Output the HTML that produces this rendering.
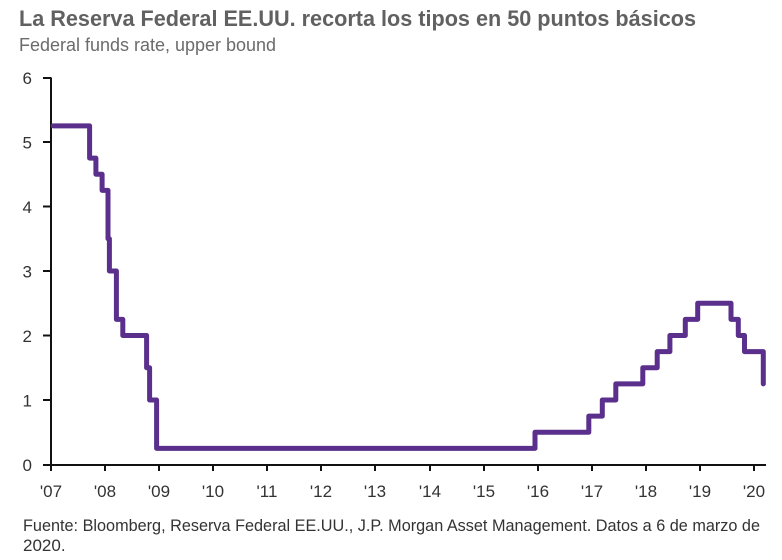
<!DOCTYPE html>
<html>
<head>
<meta charset="utf-8">
<style>
  html,body{margin:0;padding:0;background:#fff;}
  svg{display:block;}
  text{font-family:"Liberation Sans", sans-serif;}
</style>
</head>
<body>
<svg width="782" height="560" viewBox="0 0 782 560" xmlns="http://www.w3.org/2000/svg">
  <rect width="782" height="560" fill="#fff"/>
  <!-- Title -->
  <text x="19" y="26" font-size="22" font-weight="bold" fill="#616161" textLength="677" lengthAdjust="spacingAndGlyphs">La Reserva Federal EE.UU. recorta los tipos en 50 puntos básicos</text>
  <text x="19" y="51" font-size="18.5" fill="#6b6b6b" textLength="257" lengthAdjust="spacingAndGlyphs">Federal funds rate, upper bound</text>

  <!-- Axes -->
  <g stroke="#111" stroke-width="2" fill="none">
    <line x1="51" y1="77.5" x2="51" y2="465"/>
    <line x1="43" y1="465" x2="766" y2="465"/>
    <!-- y ticks -->
    <line x1="43" y1="78" x2="51" y2="78"/>
    <line x1="43" y1="142" x2="51" y2="142"/>
    <line x1="43" y1="206.5" x2="51" y2="206.5"/>
    <line x1="43" y1="271" x2="51" y2="271"/>
    <line x1="43" y1="335.5" x2="51" y2="335.5"/>
    <line x1="43" y1="400" x2="51" y2="400"/>
    <!-- x ticks -->
    <line x1="51" y1="465" x2="51" y2="471"/>
    <line x1="105" y1="465" x2="105" y2="471"/>
    <line x1="159" y1="465" x2="159" y2="471"/>
    <line x1="213" y1="465" x2="213" y2="471"/>
    <line x1="267" y1="465" x2="267" y2="471"/>
    <line x1="321" y1="465" x2="321" y2="471"/>
    <line x1="375" y1="465" x2="375" y2="471"/>
    <line x1="430" y1="465" x2="430" y2="471"/>
    <line x1="484" y1="465" x2="484" y2="471"/>
    <line x1="538" y1="465" x2="538" y2="471"/>
    <line x1="592" y1="465" x2="592" y2="471"/>
    <line x1="646" y1="465" x2="646" y2="471"/>
    <line x1="700" y1="465" x2="700" y2="471"/>
    <line x1="754" y1="465" x2="754" y2="471"/>
  </g>

  <!-- y labels -->
  <g font-size="17" fill="#333" text-anchor="end">
    <text x="32" y="84">6</text>
    <text x="32" y="148.5">5</text>
    <text x="32" y="213">4</text>
    <text x="32" y="277.5">3</text>
    <text x="32" y="342">2</text>
    <text x="32" y="406.5">1</text>
    <text x="32" y="471">0</text>
  </g>

  <!-- x labels -->
  <g font-size="17" fill="#333" text-anchor="middle">
    <text x="51" y="497">'07</text>
    <text x="105" y="497">'08</text>
    <text x="159" y="497">'09</text>
    <text x="213" y="497">'10</text>
    <text x="267" y="497">'11</text>
    <text x="321" y="497">'12</text>
    <text x="375" y="497">'13</text>
    <text x="430" y="497">'14</text>
    <text x="484" y="497">'15</text>
    <text x="538" y="497">'16</text>
    <text x="592" y="497">'17</text>
    <text x="646" y="497">'18</text>
    <text x="700" y="497">'19</text>
    <text x="754" y="497">'20</text>
  </g>

  <!-- Series -->
  <path fill="none" stroke="#5b2f8c" stroke-width="5" stroke-linejoin="round" stroke-linecap="round"
    d="M53.2,125.9 H89.6 V158.1 H95.9 V174.25 H102.1 V190.4 H108 V238.75 H109.4 V271 H116.4 V319.4 H122.8 V335.5 H146.6 V367.75 H149.6 V400 H156.6 V448.4 H535 V432.25 H588.8 V416.1 H602.3 V400 H615.8 V383.9 H642.8 V367.75 H657.2 V351.6 H669.9 V335.5 H685.3 V319.4 H697.7 V303.25 H731 V319.4 H738.3 V335.5 H744.5 V351.6 H763.3 V383.9"/>

  <!-- Footer -->
  <text x="23" y="531" font-size="17" fill="#333" textLength="737" lengthAdjust="spacingAndGlyphs">Fuente: Bloomberg, Reserva Federal EE.UU., J.P. Morgan Asset Management. Datos a 6 de marzo de</text>
  <text x="23" y="551" font-size="17" fill="#333">2020.</text>
</svg>
</body>
</html>
